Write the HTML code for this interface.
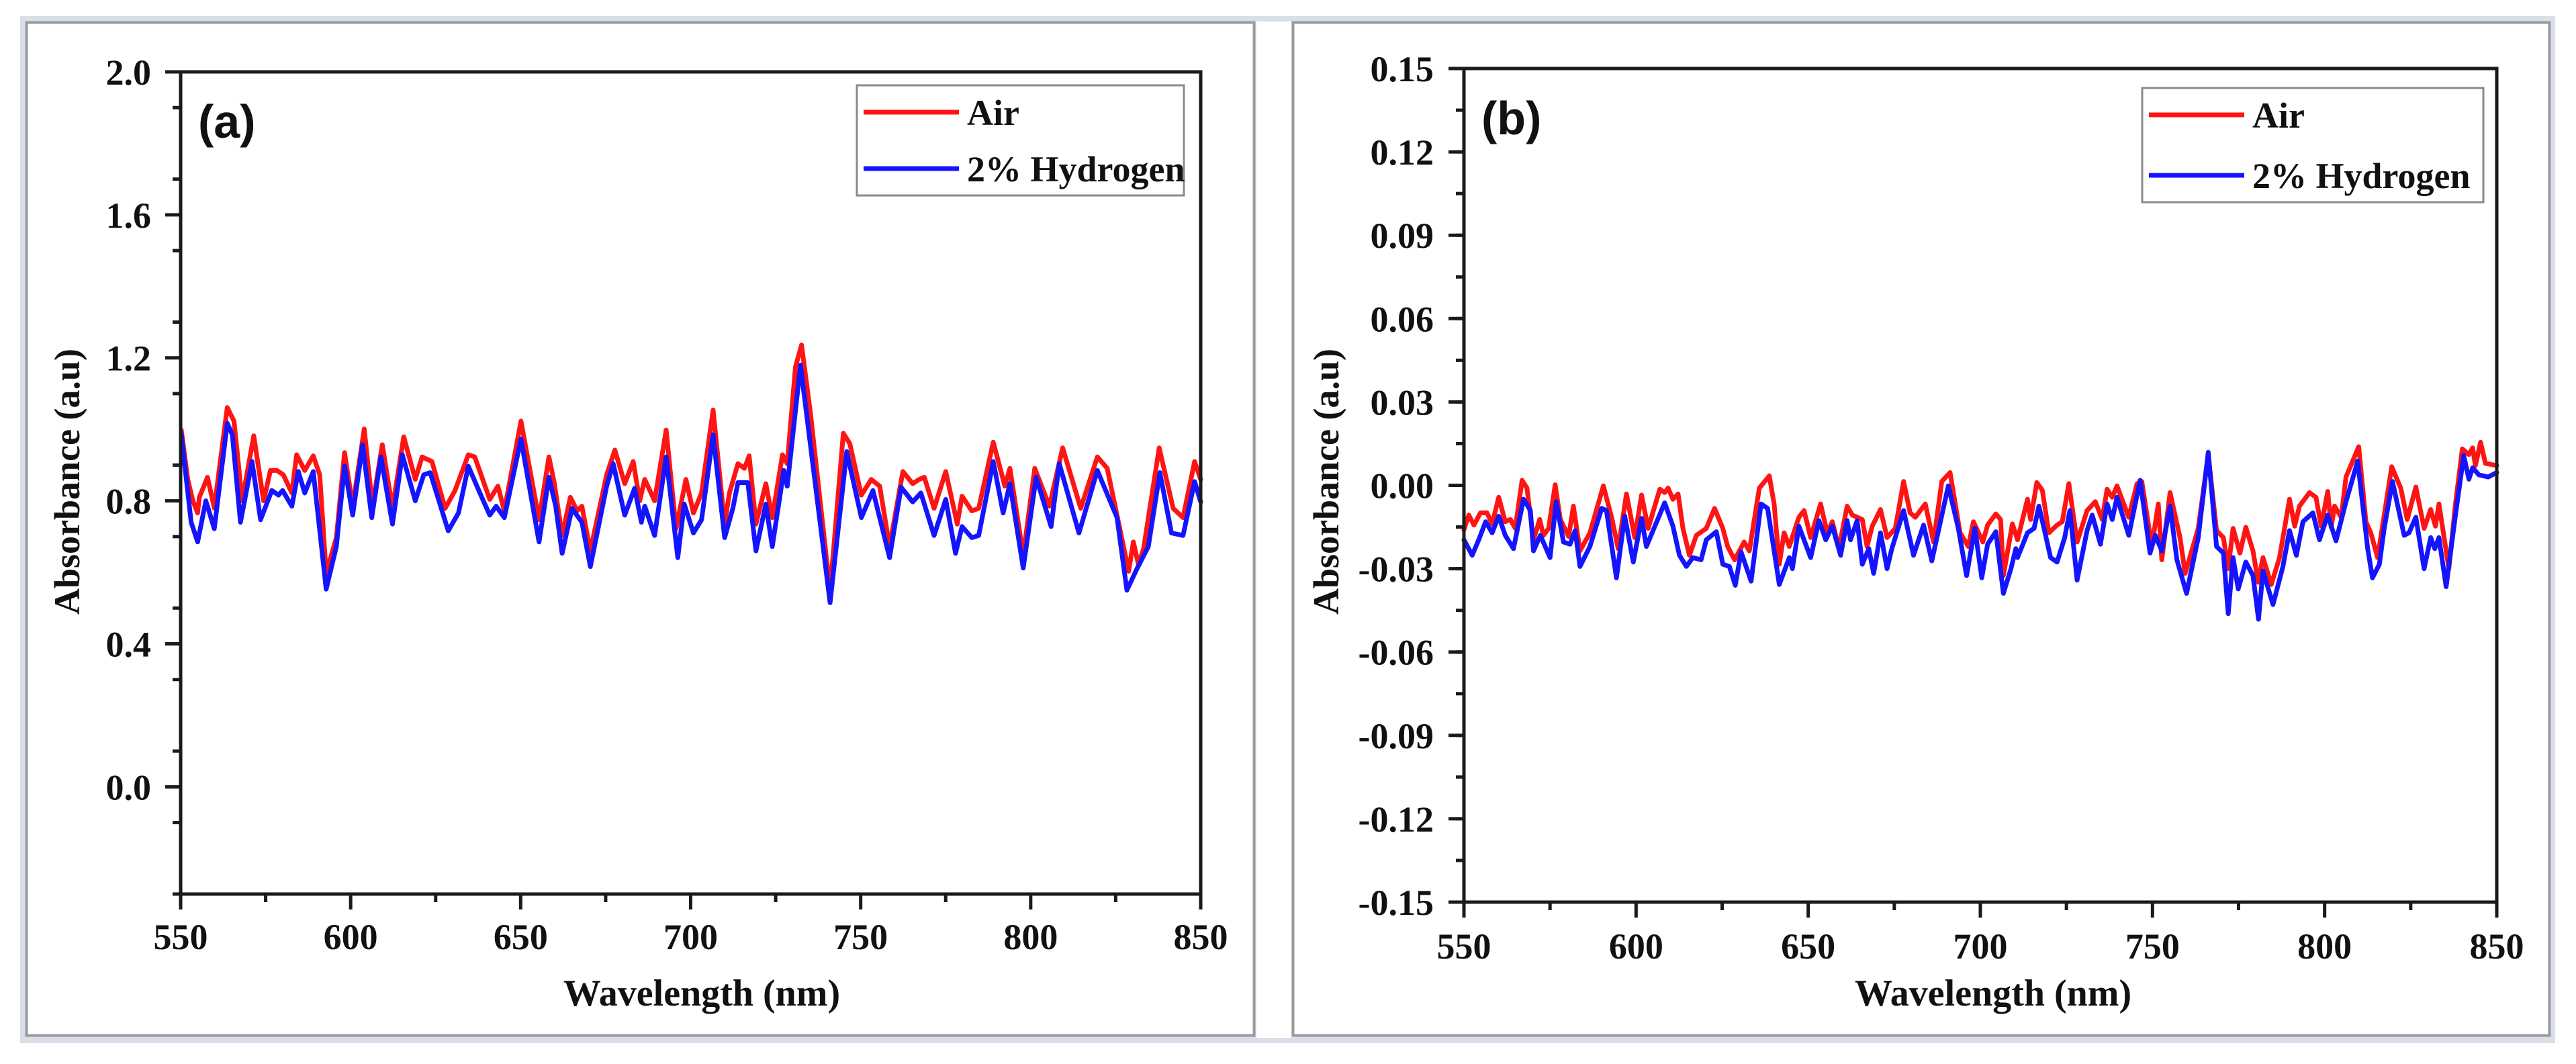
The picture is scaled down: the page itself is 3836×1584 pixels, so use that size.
<!DOCTYPE html>
<html>
<head>
<meta charset="utf-8">
<style>
html,body{margin:0;padding:0;background:#fff;}
svg{display:block;}
text{font-family:"Liberation Serif",serif;font-weight:bold;fill:#111;}
</style>
</head>
<body>
<svg id="chart" width="3836" height="1584" viewBox="0 0 3836 1584" xmlns="http://www.w3.org/2000/svg">
  <rect x="30" y="24" width="3775" height="1529" fill="#d8dfe8"/>
  <rect x="1871" y="32" width="52" height="1513" fill="#ffffff"/>
  <rect x="39.5" y="33.5" width="1828" height="1508" fill="#ffffff" stroke="#9a9a9a" stroke-width="4"/>
  <rect x="1925.5" y="33.5" width="1871" height="1508" fill="#ffffff" stroke="#9a9a9a" stroke-width="4"/>
  <g id="pa"></g>
  <g id="pb"></g>
</svg>
<script>
// ---------- Panel (a) data ----------
const aAirWl = [550.2,552.1,553.6,555.0,555.5,557.9,559.9,563.7,565.7,568.1,571.5,574.4,576.4,578.3,580.2,582.7,584.1,586.5,589.0,590.9,592.8,595.8,598.2,600.6,604.0,606.4,609.3,612.3,615.6,619.0,621.0,623.9,627.8,630.7,634.6,636.5,640.9,643.3,645.2,650.1,655.4,658.3,659.8,662.2,664.6,666.6,668.0,670.5,675.3,677.7,680.6,683.1,685.0,686.5,689.4,692.8,695.7,698.6,700.8,703.2,706.6,710.0,711.4,713.9,715.8,717.2,719.2,722.1,724.0,727.0,728.4,730.8,732.6,735.2,741.0,744.9,746.8,750.2,753.1,755.6,758.5,762.4,765.3,767.2,768.7,771.6,775.0,778.4,779.8,782.7,784.7,789.0,792.4,793.9,797.8,801.2,805.5,809.4,814.7,819.6,822.5,828.8,830.2,831.7,833.2,837.8,841.9,844.8,848.2,850];
const aAirVal = [0.998,0.86,0.80,0.766,0.81,0.866,0.78,1.061,1.023,0.80,0.982,0.80,0.885,0.885,0.873,0.822,0.929,0.885,0.926,0.873,0.597,0.697,0.935,0.785,1.001,0.785,0.957,0.779,0.979,0.86,0.923,0.91,0.779,0.829,0.929,0.923,0.804,0.841,0.772,1.023,0.747,0.923,0.854,0.703,0.81,0.772,0.785,0.66,0.873,0.942,0.848,0.91,0.80,0.86,0.80,0.998,0.722,0.86,0.766,0.822,1.054,0.735,0.822,0.904,0.891,0.926,0.735,0.848,0.753,0.929,0.904,1.174,1.236,1.048,0.547,0.989,0.96,0.816,0.86,0.841,0.672,0.882,0.848,0.86,0.866,0.779,0.882,0.735,0.813,0.772,0.779,0.964,0.841,0.891,0.647,0.891,0.785,0.948,0.779,0.923,0.891,0.603,0.685,0.622,0.666,0.948,0.779,0.753,0.91,0.86];
const aH2Wl = [550.2,553.1,555.0,557.4,559.9,563.7,565.2,567.6,571.0,573.5,576.8,578.8,580.0,582.7,584.6,586.5,589.0,592.8,595.8,598.2,600.6,603.5,606.2,608.9,612.3,615.2,619.0,621.5,623.4,628.7,631.7,634.6,638.0,640.9,642.8,645.2,650.1,655.4,658.3,660.3,662.2,665.1,668.0,670.5,675.3,677.2,680.6,683.5,685.5,686.5,689.4,692.8,696.2,698.1,700.8,703.2,706.6,710.0,712.4,713.9,716.8,719.2,722.1,724.0,727.4,728.4,732.3,741.0,745.9,750.2,753.6,758.5,761.9,765.3,767.7,771.6,775.0,777.9,779.8,782.7,784.7,789.0,791.9,793.9,797.8,801.6,806.0,808.4,814.2,819.6,825.4,828.3,831.2,834.6,838.0,841.4,844.8,848.2,850];
const aH2Val = [0.985,0.74,0.685,0.80,0.722,1.017,0.985,0.74,0.91,0.747,0.829,0.816,0.829,0.785,0.882,0.822,0.882,0.553,0.672,0.897,0.76,0.957,0.753,0.923,0.735,0.929,0.80,0.873,0.879,0.716,0.766,0.897,0.822,0.76,0.785,0.753,0.973,0.685,0.866,0.785,0.653,0.779,0.74,0.616,0.841,0.904,0.76,0.835,0.74,0.785,0.703,0.923,0.641,0.791,0.71,0.747,0.985,0.697,0.779,0.851,0.851,0.66,0.791,0.672,0.885,0.841,1.18,0.515,0.938,0.753,0.829,0.641,0.838,0.797,0.822,0.703,0.804,0.653,0.728,0.697,0.703,0.91,0.766,0.848,0.612,0.866,0.728,0.904,0.71,0.885,0.753,0.55,0.609,0.672,0.879,0.71,0.703,0.854,0.797];
const aYTicks = [0.0,0.4,0.8,1.2,1.6,2.0];
const aYTickLabels = ["0.0","0.4","0.8","1.2","1.6","2.0"];

// ---------- Panel (b) data ----------
const bAirWl = [550,551.4,552.9,554.8,556.7,558.2,560.1,562.0,563.5,564.9,566.9,568.3,570.2,572.0,573.1,574.6,576.5,578.0,580.4,581.8,583.7,586.6,590.5,592.9,594.8,597.2,599.6,601.6,603.5,606.9,608.3,609.3,610.7,612.2,613.6,615.5,617.5,620.4,622.8,625.2,626.6,628.6,631.4,632.9,635.8,638.7,640.1,641.6,643.0,644.5,647.3,648.8,650.7,653.6,655.5,657.0,658.9,661.3,662.8,665.7,667.1,668.6,671.0,672.9,675.3,677.7,679.6,681.1,684.0,686.4,688.8,691.2,694.1,696.5,698.0,700.7,702.1,704.5,705.9,706.7,709.3,710.8,713.7,714.6,716.4,718.0,719.9,722.3,723.8,725.7,728.1,731.0,733.4,735.4,736.8,738.3,739.7,743.1,745.5,746.9,749.8,751.7,752.7,755.1,758.0,759.5,763.3,766.2,768.6,770.6,772.0,773.4,775.4,777.1,779.2,780.7,782.1,784.5,786.9,789.8,791.3,792.7,795.6,797.5,799.0,800.9,801.9,802.9,804.8,806.2,809.9,812.0,813.4,815.4,817.3,819.5,822.1,824.0,826.5,828.9,830.8,832.2,833.2,836.1,838.0,840.0,841.9,843.0,843.8,845.3,846.7,850];
const bAirVal = [-0.016,-0.0107,-0.0143,-0.0099,-0.0099,-0.0139,-0.0043,-0.0131,-0.0123,-0.0155,0.0018,-0.001,-0.0196,-0.0123,-0.018,-0.0155,0.0002,-0.0123,-0.0184,-0.0075,-0.0236,-0.0171,-0.0002,-0.0115,-0.0228,-0.0031,-0.0188,-0.0035,-0.0155,-0.0014,-0.0026,-0.001,-0.005,-0.0031,-0.0155,-0.0252,-0.018,-0.0155,-0.0083,-0.0155,-0.022,-0.0268,-0.0204,-0.0236,-0.001,0.0034,-0.0067,-0.0284,-0.0171,-0.022,-0.0115,-0.0091,-0.0188,-0.0067,-0.0171,-0.0131,-0.0228,-0.0075,-0.0107,-0.0123,-0.022,-0.0147,-0.0087,-0.0188,-0.0155,0.0014,-0.0099,-0.0115,-0.0067,-0.0204,0.0014,0.0046,-0.0171,-0.022,-0.0131,-0.0204,-0.0143,-0.0103,-0.0123,-0.0325,-0.0139,-0.0196,-0.005,-0.0123,0.0010,-0.0018,-0.0171,-0.0143,-0.0131,0.0006,-0.0204,-0.0091,-0.0059,-0.0123,-0.0014,-0.0043,-0.0002,-0.0115,0.0006,0.0014,-0.022,-0.0067,-0.0268,-0.0026,-0.0188,-0.0317,-0.0155,0.0111,-0.0163,-0.0188,-0.03,-0.0155,-0.0244,-0.0151,-0.0236,-0.0349,-0.026,-0.0357,-0.026,-0.005,-0.0147,-0.0075,-0.0026,-0.0043,-0.0147,-0.0022,-0.0151,-0.0075,-0.0115,0.003,0.0139,-0.0131,-0.0171,-0.026,-0.0107,0.0067,-0.001,-0.0123,-0.0006,-0.0155,-0.0087,-0.0147,-0.0067,-0.03,-0.0067,0.0131,0.0111,0.0135,0.0071,0.0155,0.0079,0.0071];
const bH2Wl = [550,552.4,554.3,556.3,558.2,560.1,562.0,564.4,567.3,569.3,570.2,572.2,575.0,576.8,578.9,580.8,582.3,583.7,586.6,590.0,591.4,594.3,596.7,599.2,601.6,603.0,608.3,610.7,612.6,614.6,616.5,618.9,620.4,623.3,625.2,627.1,628.8,630.5,633.4,636.3,638.2,641.6,644.5,645.4,647.3,650.7,653.1,655.1,657.0,659.4,661.3,662.3,664.2,665.7,667.6,669.0,671.0,672.9,674.3,677.7,680.6,683.5,685.9,690.7,693.6,696.0,698.4,700.4,702.1,704.5,706.7,708.9,710.3,710.8,713.7,715.6,717.0,718.5,720.4,722.3,724.5,726.0,728.1,731.0,732.5,734.9,736.8,738.3,739.7,743.1,746.4,749.3,750.8,752.7,755.1,757.1,759.9,763.3,766.2,768.6,770.6,772.0,773.4,774.9,777.1,779.2,780.8,782.1,785.0,787.9,789.8,791.8,793.7,796.6,798.5,800.9,803.3,806.2,809.6,812.5,813.9,815.9,817.3,819.7,823.1,824.5,826.5,828.9,830.8,832.0,833.2,835.3,838.0,840.4,841.9,843.0,844.8,847.5,850];
const bH2Val = [-0.0196,-0.0252,-0.0196,-0.0131,-0.0171,-0.0111,-0.018,-0.0228,-0.005,-0.009,-0.0236,-0.018,-0.026,-0.0059,-0.0204,-0.0212,-0.0163,-0.0292,-0.022,-0.0083,-0.0091,-0.0333,-0.0111,-0.0276,-0.0119,-0.022,-0.0063,-0.0147,-0.0252,-0.0292,-0.026,-0.0268,-0.0196,-0.0167,-0.0284,-0.0292,-0.036,-0.024,-0.0345,-0.0067,-0.0083,-0.0357,-0.026,-0.03,-0.0147,-0.026,-0.0127,-0.0196,-0.0147,-0.0252,-0.0127,-0.0196,-0.0127,-0.0284,-0.0228,-0.0317,-0.0171,-0.03,-0.0228,-0.0091,-0.0252,-0.0143,-0.0272,-0.0002,-0.0155,-0.0325,-0.0155,-0.0333,-0.0212,-0.0167,-0.0389,-0.03,-0.0228,-0.026,-0.0171,-0.0155,-0.0075,-0.0155,-0.026,-0.0276,-0.0188,-0.0091,-0.0341,-0.0163,-0.0107,-0.0212,-0.0067,-0.0123,-0.0043,-0.018,0.0018,-0.0244,-0.018,-0.0236,-0.0075,-0.0268,-0.0389,-0.0188,0.0119,-0.022,-0.0244,-0.0462,-0.026,-0.0373,-0.0276,-0.0325,-0.0482,-0.0308,-0.0429,-0.0292,-0.0163,-0.0252,-0.0131,-0.0099,-0.0196,-0.0107,-0.02,-0.0059,0.0087,-0.0228,-0.0333,-0.0284,-0.0155,0.0014,-0.018,-0.0171,-0.0115,-0.03,-0.0188,-0.0228,-0.0188,-0.0365,-0.0107,0.0107,0.0022,0.0063,0.0038,0.003,0.0046];
const bYTicks = [-0.15,-0.12,-0.09,-0.06,-0.03,0.00,0.03,0.06,0.09,0.12,0.15];
const bYTickLabels = ["-0.15","-0.12","-0.09","-0.06","-0.03","0.00","0.03","0.06","0.09","0.12","0.15"];

const xTicks = [550,600,650,700,750,800,850];
const xTickLabels = ["550","600","650","700","750","800","850"];
const seriesNames = ["Air","2% Hydrogen"];

const NS = "http://www.w3.org/2000/svg";
function mk(parent, tag, attrs){
  const e = document.createElementNS(NS, tag);
  for (const k in attrs) e.setAttribute(k, attrs[k]);
  parent.appendChild(e);
  return e;
}

function drawPanel(g, cfg){
  const L=cfg.left, R=cfg.right, T=cfg.top, B=cfg.bottom;
  const sx = v => L + (v - 550) / 300 * (R - L);
  const sy = v => B - (v - cfg.ymin) / (cfg.ymax - cfg.ymin) * (B - T);

  const series = [[cfg.airWl, cfg.airVal, "#ff1414", "air-line"], [cfg.h2Wl, cfg.h2Val, "#1414ff", "hydrogen-line"]];
  for (const s of series){
    let d = "";
    for (let i=0;i<s[0].length;i++){
      d += (i? "L":"M") + sx(s[0][i]).toFixed(1) + "," + sy(s[1][i]).toFixed(1);
    }
    const p = mk(g, "path", {d:d, fill:"none", stroke:s[2], "stroke-width":7, "stroke-linejoin":"round", "stroke-linecap":"round"});
    
    
  }

  const fr = mk(g, "rect", {x:L, y:T, width:R-L, height:B-T, fill:"none", stroke:"#1a1a1a", "stroke-width":5});
  
  

  for (let i=0;i<xTicks.length;i++){
    const x = sx(xTicks[i]);
    const t = mk(g, "line", {x1:x, y1:B, x2:x, y2:B+23, stroke:"#1a1a1a", "stroke-width":5});
    
    
    if (i < xTicks.length-1){
      const xm = sx(xTicks[i] + 25);
      const m = mk(g, "line", {x1:xm, y1:B, x2:xm, y2:B+12, stroke:"#1a1a1a", "stroke-width":5});
      
      
    }
    const lb = mk(g, "text", {x:x, y:B+cfg.xLabelDy, "text-anchor":"middle", "font-size":54});
    lb.textContent = xTickLabels[i];
    
    
  }
  const step = cfg.yTicks[1]-cfg.yTicks[0];
  for (let i=0;i<cfg.yTicks.length;i++){
    const y = sy(cfg.yTicks[i]);
    const t = mk(g, "line", {x1:L-23, y1:y, x2:L, y2:y, stroke:"#1a1a1a", "stroke-width":5});
    
    
    const lb = mk(g, "text", {x:cfg.yLabelX, y:y+19, "text-anchor":"end", "font-size":54});
    lb.textContent = cfg.yTickLabels[i];
    
    
  }
  for (let v = cfg.ymin; v <= cfg.ymax + 1e-9; v += step/2){
    const y = sy(v);
    const m = mk(g, "line", {x1:L-12, y1:y, x2:L, y2:y, stroke:"#1a1a1a", "stroke-width":5});
    
    
  }
  const xt = mk(g, "text", {x:cfg.xTitleX, y:1497, "text-anchor":"middle", "font-size":56});
  xt.textContent = "Wavelength (nm)";
  
  
  const yt = mk(g, "text", {x:0, y:0, "text-anchor":"middle", "font-size":54, transform:"translate("+cfg.yTitleX+",717) rotate(-90)"});
  yt.textContent = "Absorbance (a.u)";
  
  
  const pl = mk(g, "text", {x:L+26, y:T+98, "font-size":70, style:"font-family:'Liberation Sans',sans-serif"});
  pl.textContent = cfg.label;
  
  
  const lg = cfg.legend;
  const lbox = mk(g, "rect", {x:lg.x, y:lg.y, width:lg.w, height:lg.h, fill:"#fff", stroke:"#8a8a8a", "stroke-width":3});
  
  
  const cols = ["#ff1414","#1414ff"];
  for (let i=0;i<2;i++){
    const ly = lg.y + 40 + i*(lg.h-80);
    const ln = mk(g, "line", {x1:lg.x+10, y1:ly, x2:lg.x+152, y2:ly, stroke:cols[i], "stroke-width":7});
    
    
    const tx = mk(g, "text", {x:lg.x+164, y:ly+19, "font-size":54});
    tx.textContent = seriesNames[i];
    
    
  }
}

drawPanel(document.getElementById("pa"), {
  left:269, right:1788, top:107, bottom:1331, ymin:-0.3, ymax:2.0,
  yTicks:aYTicks, yTickLabels:aYTickLabels, yLabelX:225, xLabelDy:82,
  xTitleX:1045, yTitleX:118, label:"(a)",
  airWl:aAirWl, airVal:aAirVal, h2Wl:aH2Wl, h2Val:aH2Val,
  legend:{x:1276, y:127, w:487, h:164}
});
drawPanel(document.getElementById("pb"), {
  left:2180, right:3718, top:102, bottom:1343, ymin:-0.15, ymax:0.15,
  yTicks:bYTicks, yTickLabels:bYTickLabels, yLabelX:2135, xLabelDy:84,
  xTitleX:2968, yTitleX:1993, label:"(b)",
  airWl:bAirWl, airVal:bAirVal, h2Wl:bH2Wl, h2Val:bH2Val,
  legend:{x:3190, y:131, w:508, h:170}
});
</script>
</body>
</html>
